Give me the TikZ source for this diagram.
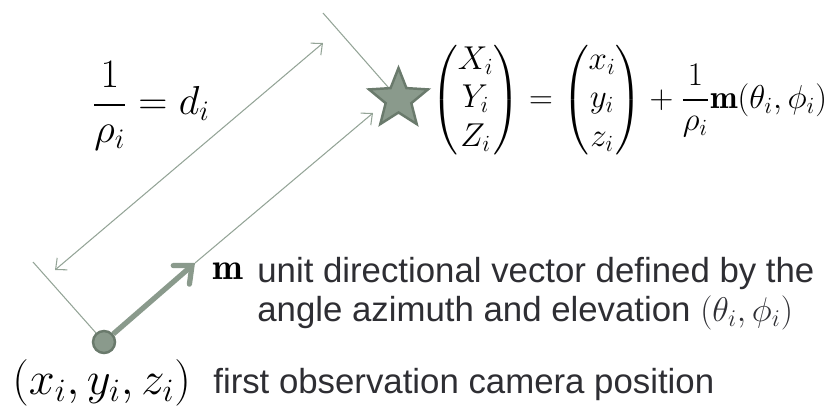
\RequirePackage{fix-cm}
\documentclass[tikz,border=0pt]{standalone}
\usepackage{amsmath}
\usepackage{fontspec}
\newfontfamily\descfont{Liberation Sans}
\usetikzlibrary{shapes.geometric,arrows.meta}
\definecolor{sage}{HTML}{8A9A8C}
\definecolor{sagedark}{HTML}{6A7A6C}
\definecolor{sageline}{HTML}{94A497}
\definecolor{txtgray}{HTML}{2E2E33}
\begin{document}
\begin{tikzpicture}[
    camnode/.style={circle, draw=sagedark, fill=sage, line width=1.4pt, minimum size=0.44cm, inner sep=0pt},
    pointnode/.style={star, star points=5, star point ratio=2.3, draw=sagedark, fill=sage, line width=1.4pt, minimum size=1.24cm, inner sep=0pt},
    guide/.style={draw=sageline, line width=0.6pt},
    dim/.style={guide, {Straight Barb[length=5pt, width=9pt]}-{Straight Barb[length=5pt, width=9pt]}},
    ray/.style={guide, -{Straight Barb[length=5pt, width=9pt]}},
    unitvec/.style={draw=sage, line width=3pt, -{Straight Barb[length=8pt, width=14pt, line cap=round]}},
    mathlbl/.style={font=\fontsize{21}{25}\selectfont, inner sep=0pt},
    desc/.style={font=\descfont\fontsize{19.8}{23}\selectfont, text=txtgray, inner sep=0pt},
]
\useasboundingbox (0,0) rectangle (16.74,8.16);
% camera and landmark
\node[camnode] (cam) at (2.08,1.32) {};
\node[pointnode] (pt) at (7.97,6.18) {};
% ticks and distance
\coordinate (tl) at (0.66,2.92);
\coordinate (tt) at (6.46,7.90);
\coordinate (dA) at (1.10,2.76);
\coordinate (dB) at (6.46,7.30);
\draw[guide] (tl) -- (cam);
\draw[guide] (tt) -- (pt);
\draw[dim] (dA) -- (dB);
% direction vector
\coordinate (mtip) at (3.90,2.90);
\coordinate (ptip) at (7.46,5.90);
\draw[unitvec] (cam) -- (mtip);
\draw[ray] (mtip) -- (ptip);
% labels
\node[mathlbl, font=\fontsize{23}{27}\selectfont] (dist) at (3.02,6.04) {$\dfrac{1}{\rho_i} = d_i$};
\node[mathlbl, font=\fontsize{18.8}{22}\selectfont, anchor=west] (eq) at (8.62,6.16) {$\begin{pmatrix} X_i\\ Y_i\\ Z_i \end{pmatrix} = \begin{pmatrix} x_i\\ y_i\\ z_i \end{pmatrix} + \dfrac{1}{\rho_i}\mathbf{m}(\theta_i,\phi_i)$};
\node[mathlbl, anchor=base west] (mlbl) at (4.24,2.58) {$\mathbf{m}$};
\node[desc, anchor=base west] (desc1) at (5.14,2.52) {unit directional vector defined by the};
\node[desc, anchor=base west] (desc2) at (5.14,1.74) {angle azimuth and elevation {\fontsize{19.5}{23}\selectfont$(\theta_i,\phi_i)$}};
\node[mathlbl, font=\fontsize{26.5}{31}\selectfont, anchor=base west] (campos) at (0.24,0.27) {$(x_i,y_i,z_i)$};
\node[desc, anchor=base west] (camdesc) at (4.26,0.30) {first observation camera position};
\end{tikzpicture}
\end{document}
